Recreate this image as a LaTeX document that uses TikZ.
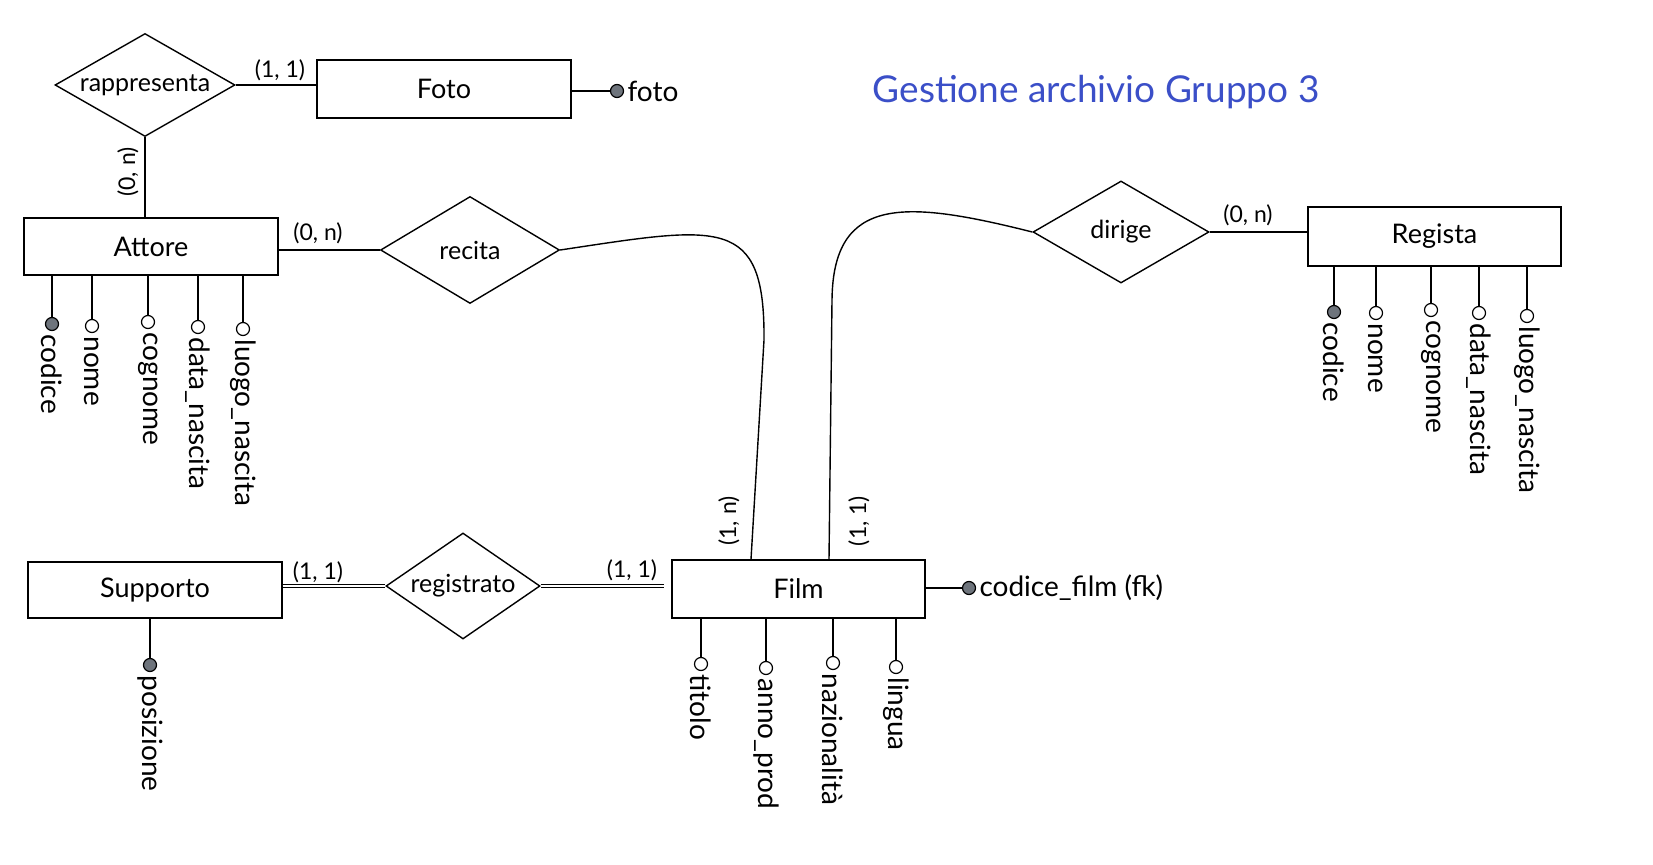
\documentclass[tikz,border=0pt]{standalone}
\usepackage{fontspec}
\setmainfont{Lato}
\usetikzlibrary{shapes.geometric,calc}
\definecolor{titleblue}{HTML}{3B4FC8}
\definecolor{keygray}{HTML}{6E747C}
\tikzset{
  ent/.style={draw, line width=0.7pt, rectangle, inner sep=0pt, font=\fontsize{13.5}{16}\selectfont},
  rel/.style={draw, line width=0.7pt, diamond, inner sep=0pt,
    label={[font=\fontsize{12.5}{15}\selectfont, inner sep=0pt]center:#1}},
  conn/.style={line width=0.7pt},
  attr/.style={draw, line width=0.6pt, circle, minimum size=6.5pt, inner sep=0pt, fill=white},
  keyattr/.style={attr, fill=keygray},
  alabel/.style={rotate=-90, anchor=west, inner sep=1.5pt, font=\fontsize{14}{16}\selectfont},
  hlabel/.style={anchor=west, inner sep=1.5pt, font=\fontsize{14}{16}\selectfont},
  card/.style={inner sep=0pt, font=\fontsize{11.5}{13}\selectfont},
}
\begin{document}
\begin{tikzpicture}[x=0.5pt,y=-0.5pt]
\useasboundingbox (0,0) rectangle (1653,865);
\fill[white] (0,0) rectangle (1653,865);

% title
\node[text=titleblue, font=\fontsize{18.5}{22}\selectfont, inner sep=0pt] (title) at (1096,92) {Gestione archivio Gruppo 3};

% entities
\node[ent, minimum width=127pt, minimum height=29pt] (foto) at (444,89) {Foto};
\node[ent, minimum width=127pt, minimum height=28.5pt] (attore) at (151,246.5) {Attore};
\node[ent, minimum width=126.5pt, minimum height=29pt] (film) at (798.5,589) {Film};
\node[ent, minimum width=126.5pt, minimum height=29.5pt] (regista) at (1434.5,236.5) {Regista};
\node[ent, minimum width=127pt, minimum height=28pt] (supporto) at (155,590) {Supporto};

% relationships
\node[rel=rappresenta, minimum width=90pt, minimum height=51.5pt] (rapp) at (145,85) {};
\node[rel=recita, minimum width=89.5pt, minimum height=53.5pt] (recita) at (470,250) {};
\node[rel=dirige, minimum width=88pt, minimum height=51pt] (dirige) at (1121,232) {};
\node[rel=registrato, minimum width=77pt, minimum height=53pt] (registrato) at (463,586) {};

% connectors
\draw[conn] (rapp.east) -- (rapp.east -| foto.west);
\draw[conn] (rapp.south) -- (rapp.south |- attore.north);
\draw[conn] (attore.east |- recita.west) -- (recita.west);
\draw[conn] (recita.east) .. controls (720,226) and (765,215) .. (764,340) -- ($(film.north)+(-47.5,0)$);
\draw[conn] (dirige.west) .. controls (905,200) and (833,195) .. (832,300) -- ($(film.north)+(30.5,0)$);
\draw[conn] (dirige.east) -- (regista.west |- dirige.east);
\draw[conn, double, double distance=1.2pt, line width=0.5pt] (supporto.east |- registrato.west) -- (registrato.west);
\draw[conn, double, double distance=1.2pt, line width=0.5pt] (registrato.east) -- ($(film.west |- registrato.east)+(-7,0)$);

% cardinalities
\node[card] (c1) at (280,70) {(1, 1)};
\node[card, rotate=90] (c2) at (128,172) {(0, n)};
\node[card] (c3) at (318,233) {(0, n)};
\node[card, rotate=90] (c4) at (729,521) {(1, n)};
\node[card, rotate=90] (c5) at (859,521) {(1, 1)};
\node[card] (c6) at (1248,215) {(0, n)};
\node[card] (c7) at (318,572) {(1, 1)};
\node[card] (c8) at (632,570) {(1, 1)};

% Foto attribute
\node[keyattr] (afoto) at (617,91) {};
\node[hlabel] (lfoto) at (afoto.east) {foto};
\draw[conn] (foto.east |- afoto) -- (afoto);

% Attore attributes
\node[keyattr] (a1) at (52,324) {};
\node[attr] (a2) at (92,326) {};
\node[attr] (a3) at (148,322) {};
\node[attr] (a4) at (198,327) {};
\node[attr] (a5) at (243,329) {};
\foreach \n/\t in {a1/codice,a2/nome,a3/cognome,a4/data\_nascita,a5/luogo\_nascita}{
  \draw[conn] (\n.north) -- (\n.north |- attore.south);
  \node[alabel] (l\n) at (\n.south) {\t};
}

% Regista attributes
\node[keyattr] (r1) at (1334,312) {};
\node[attr] (r2) at (1376,313) {};
\node[attr] (r3) at (1431,310) {};
\node[attr] (r4) at (1479,313) {};
\node[attr] (r5) at (1527,316) {};
\foreach \n/\t in {r1/codice,r2/nome,r3/cognome,r4/data\_nascita,r5/luogo\_nascita}{
  \draw[conn] (\n.north) -- (\n.north |- regista.south);
  \node[alabel] (l\n) at (\n.south) {\t};
}

% Film attributes
\node[attr] (f1) at (701,664) {};
\node[attr] (f2) at (766,668) {};
\node[attr] (f3) at (833,663) {};
\node[attr] (f4) at (896,667) {};
\foreach \n/\t in {f1/titolo,f2/anno\_prod,f3/nazionalità,f4/lingua}{
  \draw[conn] (\n.north) -- (\n.north |- film.south);
  \node[alabel] (l\n) at (\n.south) {\t};
}
\node[keyattr] (fk) at (969,588) {};
\node[hlabel] (lfk) at (fk.east) {codice\_film (fk)};
\draw[conn] (film.east |- fk) -- (fk);

% Supporto attribute
\node[keyattr] (s1) at (150,665) {};
\draw[conn] (s1.north) -- (s1.north |- supporto.south);
\node[alabel] (ls1) at (s1.south) {posizione};
\end{tikzpicture}
\end{document}
